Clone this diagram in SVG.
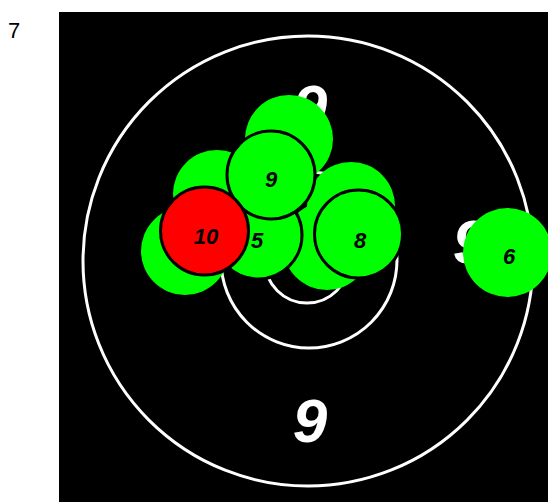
<svg xmlns="http://www.w3.org/2000/svg" width="548" height="502" viewBox="0 0 548 502">
<style>
.ring{fill:none;stroke:#fff;stroke-width:3}
.num{font-family:"Liberation Sans",Arial,sans-serif;font-weight:bold;font-style:italic;font-size:62px;fill:#fff;text-anchor:middle}
.bg{fill:#00ff00}
.shot{fill:#00ff00;stroke:#000;stroke-width:3}
.red{fill:#ff0000;stroke:#000;stroke-width:3}
.lbl{font-family:"Liberation Sans",Arial,sans-serif;font-weight:bold;font-style:italic;font-size:22px;fill:#000;text-anchor:middle}
</style>
<rect width="548" height="502" fill="#fff"/>
<text x="8" y="38" font-family="Liberation Sans,Arial,sans-serif" font-size="22" fill="#000">7</text>
<g id="target">
<rect x="59" y="12" width="489" height="490" fill="#000"/>
<circle class="ring" cx="308" cy="261" r="225"/>
<circle class="ring" cx="309" cy="260" r="88"/>
<circle class="ring" cx="307" cy="261" r="42"/>
<text class="num" x="310" y="128">9</text>
<text class="num" x="310" y="442">9</text>
<text class="num" x="470" y="263">9</text>
<text class="num" x="162" y="263">9</text>
</g>
<g id="shots-bg">
<circle class="bg" cx="289" cy="139" r="44"/>
<circle class="bg" cx="217" cy="194" r="44"/>
<circle class="bg" cx="185" cy="251" r="44"/>
<circle class="bg" cx="351" cy="206" r="44"/>
<circle class="bg" cx="327" cy="246" r="44"/>
</g>
<g id="shot5"><circle class="shot" cx="258" cy="235" r="44"/><text class="lbl" x="257" y="248">5</text></g>
<g id="shot8"><circle class="shot" cx="358.5" cy="234" r="44"/><text class="lbl" x="360" y="248">8</text></g>
<g id="shot9"><circle class="shot" cx="271" cy="175" r="44"/><text class="lbl" x="271" y="187">9</text></g>
<g id="shot10"><circle class="red" cx="204.5" cy="231" r="44"/><text class="lbl" x="206" y="244">10</text></g>
<g id="shot6"><circle class="bg" cx="507.5" cy="252.5" r="44.5"/><text class="lbl" x="509" y="264">6</text></g>
</svg>
